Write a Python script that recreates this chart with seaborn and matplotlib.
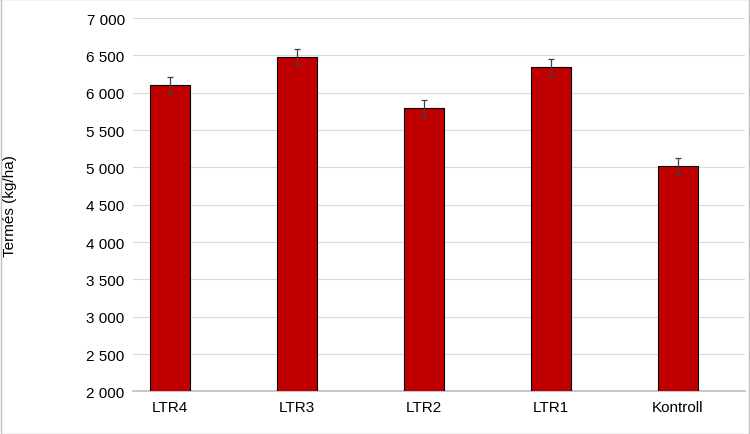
import matplotlib
matplotlib.use("Agg")
import matplotlib.pyplot as plt
import seaborn as sns
import pandas as pd
from matplotlib.ticker import FuncFormatter, MultipleLocator

# Data
treatments = ["LTR4", "LTR3", "LTR2", "LTR1", "Kontroll"]
yields = [6100, 6480, 5790, 6340, 5020]
errors = [110, 110, 110, 110, 110]

df = pd.DataFrame({"kezeles": treatments, "termes": yields})

sns.set_theme(style="white")
plt.rcParams["font.family"] = ["Liberation Sans", "DejaVu Sans"]

fig = plt.figure(figsize=(7.5, 4.35), dpi=100)
ax = fig.add_axes([133 / 750, 0.098, 612 / 750, 0.858])

sns.barplot(data=df, x="kezeles", y="termes", color="#C00000", saturation=1,
            edgecolor="black", linewidth=0.8, width=0.315, ax=ax, zorder=3)
ax.errorbar(range(len(treatments)), yields, yerr=errors, fmt="none",
            ecolor="#404040", elinewidth=0.9, capsize=2.5, capthick=0.9, zorder=4)

ax.set_xlim(-0.291, 4.528)
ax.set_ylim(2000, 7000)
ax.yaxis.set_major_locator(MultipleLocator(500))
ax.yaxis.set_major_formatter(FuncFormatter(lambda v, p: f"{int(v):,}".replace(",", " ")))
ax.grid(axis="y", color="#d9d9d9", linewidth=0.8, zorder=0)
ax.set_axisbelow(True)
for s in ["top", "right", "left"]:
    ax.spines[s].set_visible(False)
ax.spines["bottom"].set_color("#bfbfbf")
ax.set_xlabel("")
ax.set_ylabel("Termés (kg/ha)", fontsize=11, color="black")
ax.yaxis.set_label_coords(-0.19, 0.5)
ax.tick_params(axis="both", labelsize=11, colors="black", length=0, pad=6)

fig.patches.append(plt.Rectangle((0.001, 0.001), 0.998, 0.998, transform=fig.transFigure,
                                 fill=False, edgecolor="#bfbfbf", linewidth=1))
fig.savefig("out.png", dpi=100)
